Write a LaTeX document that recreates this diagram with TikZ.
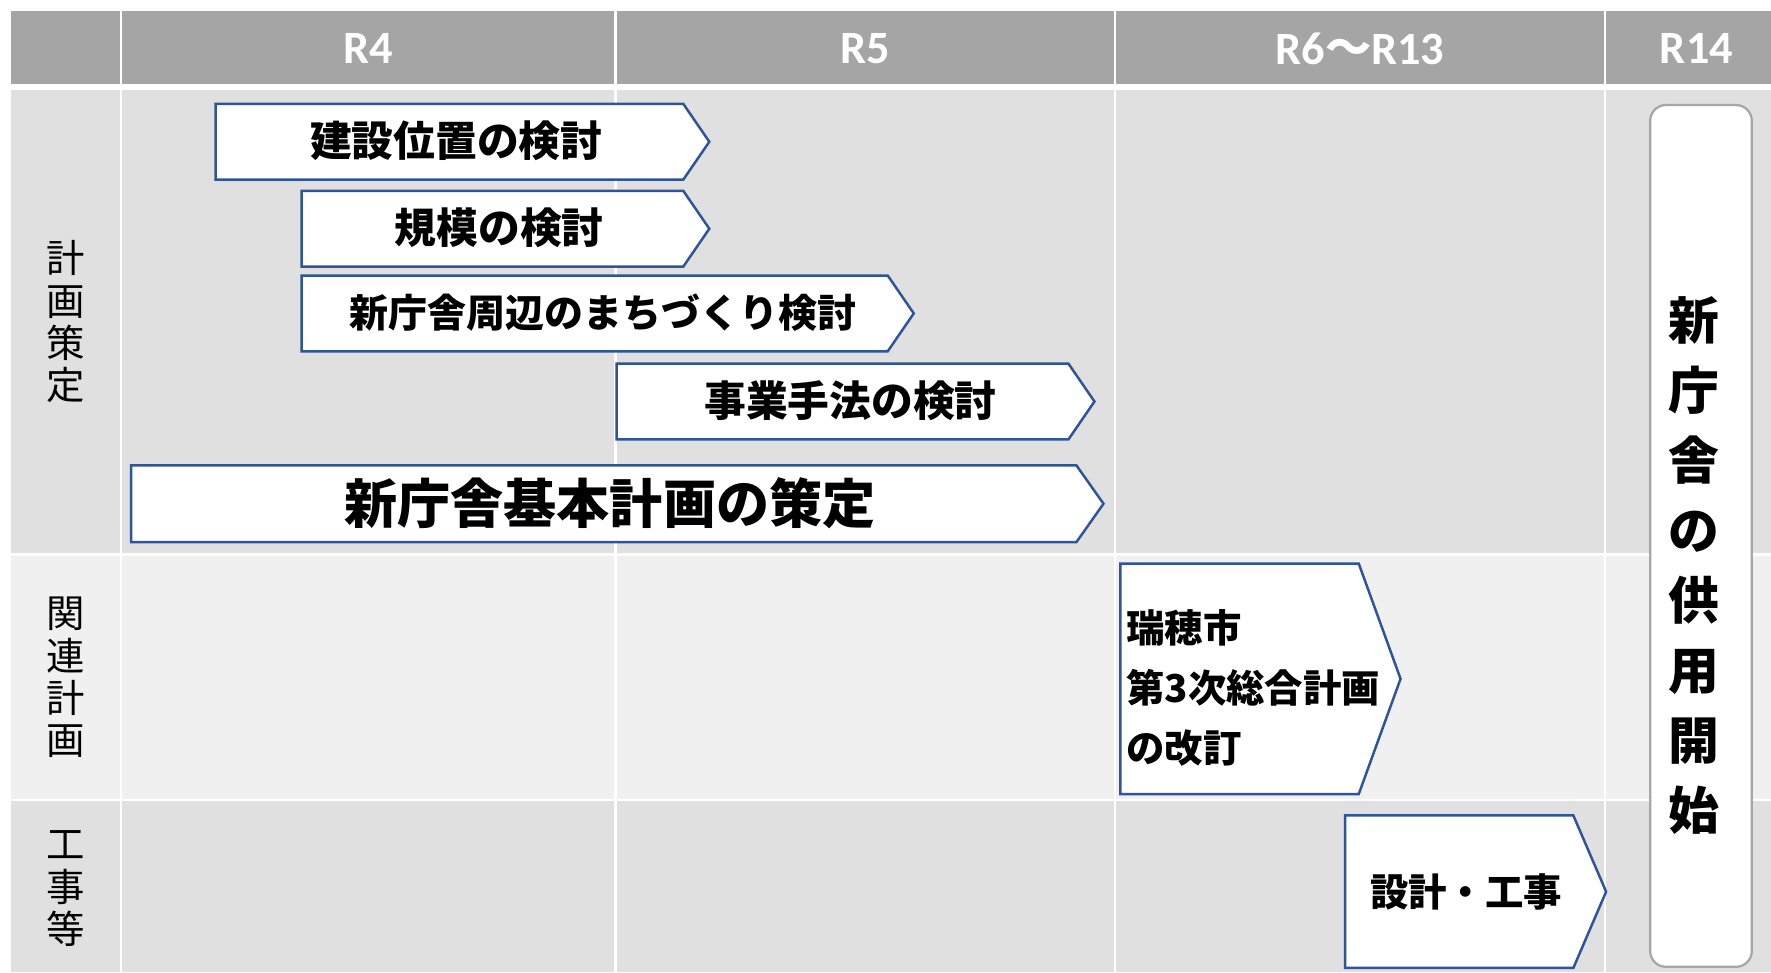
\documentclass[tikz,border=0pt]{standalone}
\usepackage{fontspec}
\newfontfamily\jp{Noto Sans CJK JP}
\newfontfamily\lat{Carlito}
\definecolor{hdr}{HTML}{A5A5A5}
\definecolor{rowa}{HTML}{E0E0E0}
\definecolor{rowb}{HTML}{F0F0F0}
\definecolor{bblue}{HTML}{2F5597}
\definecolor{rgray}{HTML}{A6A6A6}
\newcommand\chev[5]{\draw[arrowbox] (#1,#2) -- (#3,#2) -- (#4,{(#2+#5)/2}) -- (#3,#5) -- (#1,#5) -- cycle;}
\newcommand\fsz[2]{\fontsize{#1}{#2}\selectfont}
\begin{document}
\begin{tikzpicture}[x=1pt,y=1pt,
  arrowbox/.style={draw=bblue, fill=white, line width=2.2pt, line join=miter},
  hdrtext/.style={text=white, font=\lat\bfseries\fsz{41}{45}, inner sep=0pt},
  rowlabel/.style={font=\jp\fsz{34}{37.5}, align=center, inner sep=0pt},
  boxtext/.style={font=\jp\bfseries\fsz{37}{40}, inner sep=0pt}]
\useasboundingbox (0,0) rectangle (1568,-861);
\fill[white] (0,0) rectangle (1568,-861);
\foreach \xa/\xb in {10/106,108/544,546/986,988/1420,1422/1568}{
  \fill[hdr] (\xa,-10) rectangle (\xb,-74);
  \fill[rowa] (\xa,-80) rectangle (\xb,-490);
  \fill[rowb] (\xa,-492) rectangle (\xb,-707);
  \fill[rowa] (\xa,-709) rectangle (\xb,-861);
}
% header
\node[hdrtext] (h4) at (326,-43) {R4};
\node[hdrtext] (h5) at (766,-43) {R5};
\node[hdrtext] (h6) at (1204,-43) {R6{\jp ～}R13};
\node[hdrtext] (h14) at (1502,-43) {R14};
% row labels
\node[rowlabel] (l1) at (58,-285) {計\\画\\策\\定};
\node[rowlabel] (l2) at (58,-600) {関\\連\\計\\画};
\node[rowlabel] (l3) at (58,-787) {工\\事\\等};
% arrows
\chev{191}{-92}{605}{628}{-159}
\node[boxtext] (t1) at (404,-125) {建設位置の検討};
\chev{267}{-169}{605}{628}{-236}
\node[boxtext] (t2) at (442,-202) {規模の検討};
\chev{267}{-244}{786}{809}{-311}
\node[boxtext, font=\jp\bfseries\fsz{34.5}{38}] (t3) at (534,-277) {新庁舎周辺のまちづくり検討};
\chev{546}{-322}{946}{969}{-389}
\node[boxtext] (t4) at (753,-355) {事業手法の検討};
\chev{116}{-412}{953}{977}{-480}
\node[boxtext, font=\jp\bfseries\fsz{47}{50}] (t5) at (540,-446) {新庁舎基本計画の策定};
\chev{992}{-499}{1203}{1240}{-703}
\node[boxtext, font=\jp\bfseries\fsz{34}{53}, align=left, anchor=west] (t6) at (997,-609) {瑞穂市\\第3次総合計画\\の改訂};
\chev{1191}{-722}{1393}{1422}{-857}
\node[boxtext, font=\jp\bfseries\fsz{34}{38}] (t7) at (1298,-790) {設計・工事};
% R14 box
\node[draw=rgray, fill=white, line width=2pt, rounded corners=14pt, minimum width=90pt, minimum height=763pt, anchor=north west, inner sep=0pt] (kyo) at (1460,-92) {};
\node[font=\jp\bfseries\fsz{45}{62}, align=center, inner sep=0pt] (kyot) at (1500,-501) {新\\庁\\舎\\の\\供\\用\\開\\始};
\end{tikzpicture}
\end{document}
